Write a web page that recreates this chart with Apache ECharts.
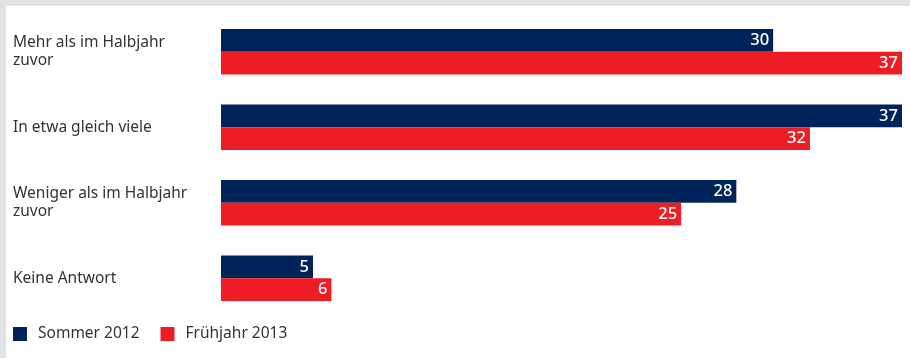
<!DOCTYPE html>
<html>
<head>
<meta charset="utf-8">
<script src="https://cdn.jsdelivr.net/npm/echarts@6/dist/echarts.min.js"></script>
<style>
html,body{margin:0;padding:0;background:#fff;}
#chart{width:910px;height:358px;}
</style>
</head>
<body>
<div id="chart"></div>
<script>
const categories = ["Mehr als im Halbjahr\nzuvor", "In etwa gleich viele", "Weniger als im Halbjahr\nzuvor", "Keine Antwort"];
const seriesNames = ["Sommer 2012", "Frühjahr 2013"];
const sommer2012 = [30, 37, 28, 5];
const fruehjahr2013 = [37, 32, 25, 6];
const colors = ["#002359", "#ee1d25"];

const chart = echarts.init(document.getElementById('chart'), null, {renderer: 'canvas'});
const fontFamily = '"Noto Sans", sans-serif';
const labelCfg = {
  show: true,
  position: 'insideRight',
  distance: 4,
  color: '#ffffff',
  fontFamily: fontFamily,
  fontSize: 16.5,
  fontWeight: 500
};
chart.setOption({
  animation: false,
  backgroundColor: '#ffffff',
  color: colors,
  graphic: [
    {type: 'rect', shape: {x: 0, y: 0, width: 910, height: 6}, style: {fill: '#e1e2e4'}, z: 100},
    {type: 'rect', shape: {x: 0, y: 0, width: 6, height: 358}, style: {fill: '#e1e2e4'}, z: 100}
  ],
  grid: {left: 221, right: 8, top: 14, bottom: 42, containLabel: false},
  legend: {
    left: 13,
    top: 326,
    padding: 0,
    icon: 'rect',
    itemWidth: 14,
    itemHeight: 14,
    itemGap: 21,
    textStyle: {fontFamily: fontFamily, fontSize: 15.5, color: '#333333', padding: [0, 0, 0, 6]},
    data: seriesNames
  },
  xAxis: {
    type: 'value', min: 0, max: 37, show: false,
    splitLine: {show: false}
  },
  yAxis: {
    type: 'category',
    inverse: true,
    data: categories,
    axisLine: {show: false},
    axisTick: {show: false},
    axisLabel: {
      align: 'left',
      margin: 208,
      fontFamily: fontFamily,
      fontSize: 15.5,
      lineHeight: 18,
      color: '#333333'
    }
  },
  series: [
    {name: seriesNames[0], type: 'bar', data: sommer2012, barGap: '0%', barCategoryGap: '40%', label: labelCfg, itemStyle: {color: colors[0]}},
    {name: seriesNames[1], type: 'bar', data: fruehjahr2013, barGap: '0%', barCategoryGap: '40%', label: labelCfg, itemStyle: {color: colors[1]}}
  ]
});
</script>
</body>
</html>
